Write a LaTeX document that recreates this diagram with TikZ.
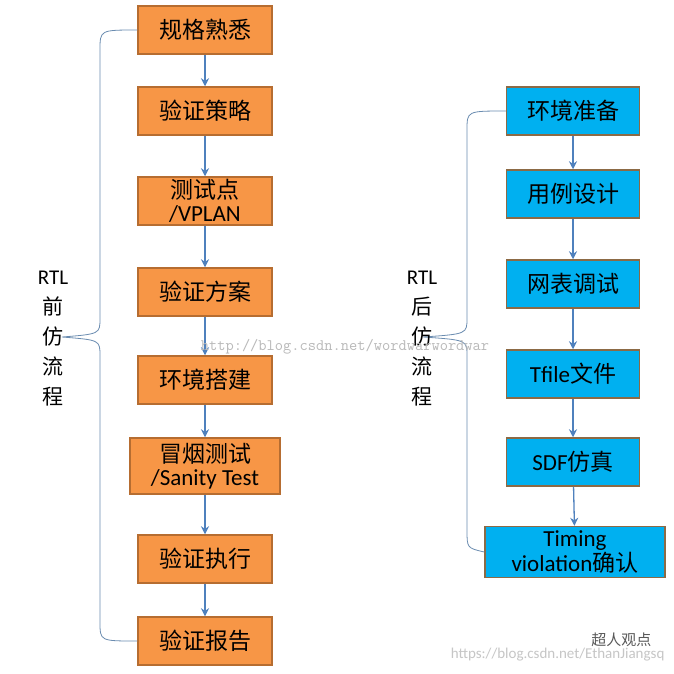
\documentclass[tikz,border=0pt]{standalone}
\usepackage{fontspec}
\setmainfont{Carlito}
\newfontfamily\cjk{Noto Sans CJK SC}
\usetikzlibrary{arrows.meta}
\definecolor{org}{HTML}{F79646}
\definecolor{orgb}{HTML}{B66D31}
\definecolor{sky}{HTML}{00B0F0}
\definecolor{skyb}{HTML}{8C6A45}
\definecolor{arr}{HTML}{4F81BD}
\definecolor{brc}{HTML}{6A8CB0}
\tikzset{
 obox/.style={draw=orgb,line width=1.5pt,fill=org,minimum width=134pt,minimum height=48pt,align=center,font=\fontsize{23}{23}\selectfont,inner sep=1pt},
 bbox/.style={draw=skyb,line width=1.5pt,fill=sky,minimum width=133pt,minimum height=48pt,align=center,font=\fontsize{23}{23}\selectfont,inner sep=1pt},
 conn/.style={arr,line width=1.3pt,-{Stealth[length=8pt,width=8pt]}},
 brace/.style={brc,line width=0.8pt},
 side/.style={align=center,font=\fontsize{21}{30}\selectfont},
 wm/.style={gray!45,font=\fontsize{15}{16}\selectfont}
}
\begin{document}
\begin{tikzpicture}[x=1pt,y=-1pt]
\useasboundingbox[fill=white] (0,0) rectangle (674,673);
% left column
\node[obox] (a1) at (205,30) {\cjk 规格熟悉};
\node[obox] (a2) at (205,111) {\cjk 验证策略};
\node[obox] (a3) at (205,201) {{\cjk 测试点}\\/VPLAN};
\node[obox] (a4) at (205,292) {\cjk 验证方案};
\node[obox] (a5) at (205,380) {\cjk 环境搭建};
\node[obox,minimum width=150pt,minimum height=56pt] (a6) at (205,466) {{\cjk 冒烟测试}\\/Sanity Test};
\node[obox] (a7) at (205,559) {\cjk 验证执行};
\node[obox] (a8) at (205,641) {\cjk 验证报告};
\foreach \i/\j in {a1/a2,a2/a3,a3/a4,a4/a5,a5/a6,a6/a7,a7/a8} \draw[conn] (\i) -- (\j);
% right column
\node[bbox] (b1) at (573,111) {\cjk 环境准备};
\node[bbox] (b2) at (573,194) {\cjk 用例设计};
\node[bbox] (b3) at (573,284) {\cjk 网表调试};
\node[bbox] (b4) at (573,374) {Tfile{\cjk 文件}};
\node[bbox] (b5) at (573,462) {SDF{\cjk 仿真}};
\node[bbox,minimum width=180pt,minimum height=51pt] (b6) at (575,552) {Timing\\violation{\cjk 确认}};
\foreach \i/\j in {b1/b2,b2/b3,b3/b4,b4/b5,b5/b6} \draw[conn] (\i) -- (\j);
% braces
\draw[brace] (a1.west) .. controls (100,30) .. (100,50) -- (100,318) .. controls (100,334) .. (62,337)
  .. controls (100,340) .. (100,356) -- (100,622) .. controls (100,641) .. (a8.west);
\draw[brace] (b1.west) .. controls (467,111) .. (467,130) -- (467,318) .. controls (467,334) .. (423,337)
  .. controls (467,340) .. (467,356) -- (467,530) .. controls (467,548) .. (b6.west);
\node[side] (lt) at (53,339) {RTL\\\cjk 前\\\cjk 仿\\\cjk 流\\\cjk 程};
\node[side] (rt) at (422,339) {RTL\\\cjk 后\\\cjk 仿\\\cjk 流\\\cjk 程};
% watermarks
\node[wm,font=\ttfamily\fontsize{16}{17}\selectfont,gray!55] (w1) at (345,347) {http://blog.csdn.net/wordwarwordwar};
\node[wm,anchor=east] (w2) at (668,655) {https://blog.csdn.net/EthanJiangsq};
\node[gray!70!black,anchor=east,font=\cjk\fontsize{15}{16}\selectfont] (w3) at (655,640) {超人观点};
\end{tikzpicture}
\end{document}
